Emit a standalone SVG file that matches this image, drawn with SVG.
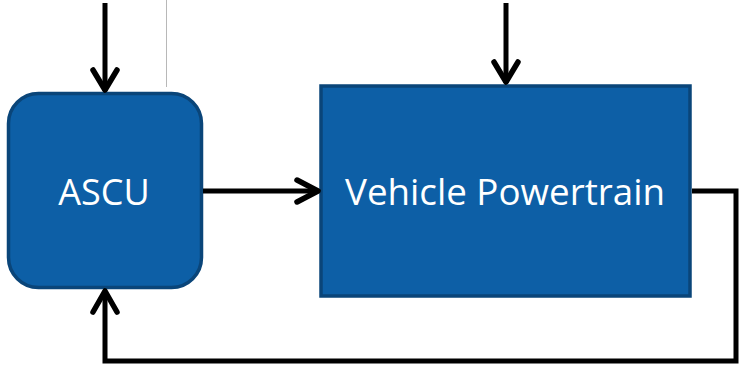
<svg xmlns="http://www.w3.org/2000/svg" width="740" height="368" viewBox="0 0 740 368">
  <defs>
    <style>
      .box { fill: #0d5fa6; stroke: #0a4579; stroke-width: 3.5; }
      .label { fill: #ffffff; font-family: "Open Sans", "Noto Sans", sans-serif; font-size: 36px; text-anchor: middle; }
      .wire { fill: none; stroke: #000000; stroke-width: 5; stroke-linejoin: miter; }
      .head { fill: none; stroke: #000000; stroke-width: 5.5; stroke-linecap: round; stroke-linejoin: round; }
    </style>
  </defs>
  <rect width="740" height="368" fill="#ffffff"/>
  <!-- thin grey guide line -->
  <line x1="166.5" y1="0" x2="166.5" y2="87" stroke="#b8b8b8" stroke-width="1"/>

  <g id="ascu">
    <rect class="box" x="8.5" y="93.5" width="193" height="194" rx="30" ry="30"/>
    <text class="label" x="104" y="205">ASCU</text>
  </g>

  <g id="vehicle-powertrain">
    <rect class="box" x="321" y="86" width="369" height="210"/>
    <text class="label" x="505" y="205" textLength="320" lengthAdjust="spacingAndGlyphs">Vehicle Powertrain</text>
  </g>

  <g id="connectors">
    <!-- input into ASCU -->
    <line class="wire" x1="105" y1="3" x2="105" y2="91"/>
    <polyline class="head" points="93,70 105,90 117,70"/>
    <!-- input into powertrain -->
    <line class="wire" x1="506" y1="3" x2="506" y2="83"/>
    <polyline class="head" points="494,62 506,82 518,62"/>
    <!-- ASCU to powertrain -->
    <line class="wire" x1="203" y1="191" x2="318" y2="191"/>
    <polyline class="head" points="297,180 318,191 297,202"/>
    <!-- feedback loop -->
    <polyline class="wire" points="692,191 736,191 736,361 105,361 105,292"/>
    <polyline class="head" points="93,312 105,291 117,312"/>
  </g>
</svg>
